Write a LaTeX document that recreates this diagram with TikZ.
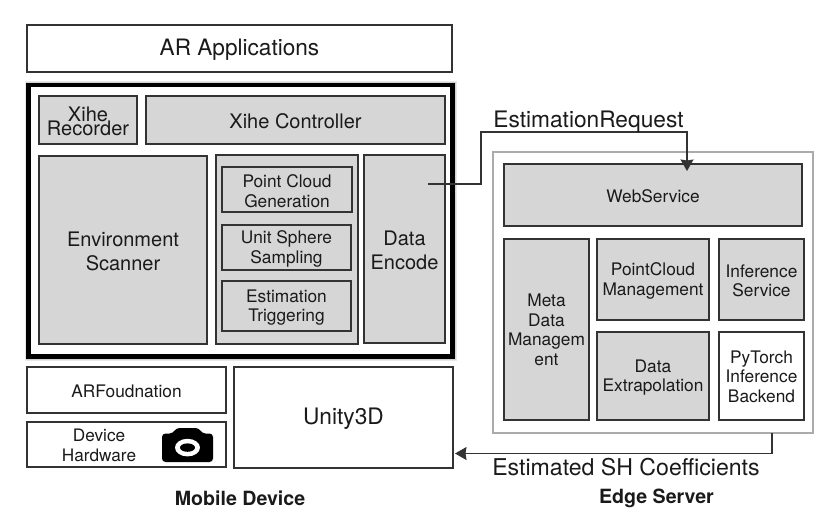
\documentclass[tikz,border=0pt]{standalone}
\usepackage{fontspec}
\setmainfont{TeX Gyre Heros}
\usetikzlibrary{arrows.meta}
\definecolor{boxfill}{HTML}{D6D6D6}
\definecolor{edgecol}{HTML}{333333}
\definecolor{inkcol}{HTML}{1A1A1A}
\newcommand{\fs}[2]{\fontsize{#1}{#2}\selectfont\lineskiplimit=-100pt }
\newcommand{\tdy}{-1.5pt}
% name, x1, y1, x2, y2, style, text: a box and, centred on it, its text
\newcommand{\bx}[7]{%
  \node[blk,#6,minimum width={(#4-#2)*1pt},minimum height={(#5-#3)*1pt}] (#1) at ({(#2+#4)/2},{(#3+#5)/2}) {};
  \node[blk,#6,draw=none,fill=none,yshift=\tdy] (#1 text) at (#1.center) {#7};}
\tikzset{
  blk/.style={draw=edgecol,line width=1.2pt,inner sep=0pt,align=center,text=inkcol,font=\fs{17.3}{19.5}},
  gray box/.style={fill=boxfill},
  white box/.style={fill=white},
  large/.style={font=\fs{20}{24.5}},
  lbl/.style={inner sep=0pt,align=center,text=inkcol},
  caption/.style={lbl,font=\bfseries\fs{19.6}{24}},
  link/.style={draw=edgecol,line width=1.2pt,-{Stealth[length=11.5pt,width=13pt,inset=1pt]}},
}
\begin{document}
\begin{tikzpicture}[x=1pt,y=-1pt]
\useasboundingbox (0,0) rectangle (838,532);
% top
\bx{ar}{27}{25}{452}{72}{white box,font=\fs{22.6}{26}}{AR Applications}
% shadow and thick frame
\foreach \o in {4,3,2,1}{
  \fill[black,opacity=.09] ({28.5-\o},{85-\o}) rectangle ({452.5+\o},{356.5+\o});
}
\bx{frame}{28.5}{85}{452.5}{356.5}{white box,line width=4.4pt,draw=black}{}
\bx{rec}{39}{96}{137}{144}{gray box,font=\fs{20}{14}}{Xihe\\Recorder}
\bx{ctl}{146}{96}{445}{144}{gray box,large}{Xihe Controller}
\bx{env}{39}{156}{207}{344}{gray box,large}{Environment\\Scanner}
\bx{mid}{216}{155}{358}{344}{gray box}{}
\bx{enc}{364}{155}{445}{343}{gray box,large}{Data\\Encode}
\bx{pcg}{222}{167}{352}{212}{gray box}{Point Cloud\\Generation}
\bx{uss}{222}{225}{351}{270}{gray box}{Unit Sphere\\Sampling}
\bx{est}{222}{281}{351}{331}{gray box}{Estimation\\Triggering}
% lower left
\bx{arf}{27}{367}{226}{413}{white box}{ARFoudnation}
\bx{dev}{27}{422}{226}{467}{white box}{}
\node[lbl,font=\fs{17.2}{20.5}] (devt) at (99,445.5) {Device\\Hardware};
\bx{uni}{234}{367}{453}{468}{white box,font=\fs{22.7}{26}}{Unity3D}
% camera icon
\fill[black,rounded corners=3.5pt] (162,433.5) -- (173,433.5) -- (176,428) -- (199,428) -- (202,433.5) -- (213,433.5) -- (213,462) -- (162,462) -- cycle;
\fill[white] (187.5,447.6) ellipse [x radius=12.5,y radius=8.8];
\fill[black] (187.5,447.6) ellipse [x radius=7.5,y radius=4.2];
% edge server
\bx{srv}{493}{152}{813}{433}{white box,draw=black!33}{}
\bx{web}{504}{164}{802}{226}{gray box}{WebService}
\renewcommand{\tdy}{-0.5pt}
\bx{meta}{504}{239}{589}{420}{gray box}{Meta\\Data\\Managem\\ent}
\renewcommand{\tdy}{-1.5pt}
\bx{pcm}{597}{239}{709}{320}{gray box}{PointCloud\\Management}
\bx{inf}{719}{239}{804}{320}{gray box}{Inference\\Service}
\bx{ext}{597}{332}{709}{420}{gray box}{Data\\Extrapolation}
\renewcommand{\tdy}{-0.5pt}
\bx{pyt}{719}{332}{804}{420}{white box}{PyTorch\\Inference\\Backend}
% connectors
\coordinate (reqstart) at (428,184);
\coordinate (reqend) at (687,171);
\draw[link] (reqstart) -- (481,184) -- (481,132) -- (687,132) -- (reqend);
\coordinate (respstart) at (772,433);
\coordinate (respend) at (455,453.5);
\draw[link] (respstart) -- (772,453.5) -- (respend);
% labels
\node[lbl,font=\fs{22.7}{26}] (reqlbl) at (588.5,122) {EstimationRequest};
\node[lbl,font=\fs{23.1}{28}] (resplbl) at (626,467) {Estimated SH Coefficients};
\node[caption] (mob) at (240,498) {Mobile Device};
\node[caption] (edg) at (656.5,498) {Edge Server};
\end{tikzpicture}
\end{document}
